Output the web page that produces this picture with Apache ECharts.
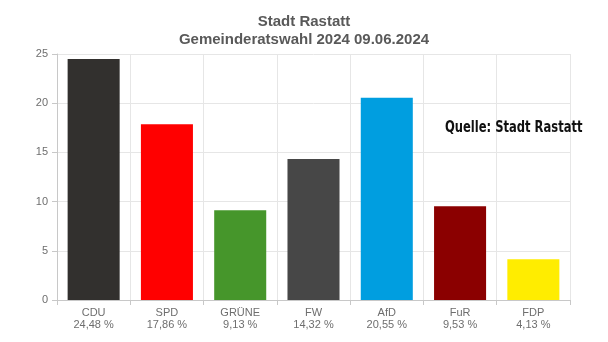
<!DOCTYPE html>
<html>
<head>
<meta charset="utf-8">
<script src="https://cdn.jsdelivr.net/npm/echarts@6/dist/echarts.min.js"></script>
<style>html,body{margin:0;padding:0;background:#fff}#c{width:608px;height:342px}</style>
</head>
<body>
<div id="c"></div>
<script>
const categories = ['CDU', 'SPD', 'GRÜNE', 'FW', 'AfD', 'FuR', 'FDP'];
const values = [24.48, 17.86, 9.13, 14.32, 20.55, 9.53, 4.13];
const colors = ['#32302e', '#ff0000', '#46962b', '#474747', '#009ee0', '#8b0000', '#ffed00'];
const yTicks = [0, 5, 10, 15, 20, 25];

const chart = echarts.init(document.getElementById('c'), null, {renderer: 'canvas'});
const fmt = v => v.toFixed(2).replace('.', ',') + ' %';
chart.setOption({
  animation: false,
  textStyle: {fontFamily: 'Liberation Sans, Arial, sans-serif'},
  title: {
    text: 'Stadt Rastatt\nGemeinderatswahl 2024 09.06.2024',
    left: 'center', top: 8,
    textStyle: {fontSize: 15, fontWeight: 'bold', color: '#595959', lineHeight: 18, fontFamily: 'Liberation Sans, Arial, sans-serif'}
  },
  grid: {left: 57, right: 38, top: 54, bottom: 42, containLabel: false},
  xAxis: {
    type: 'category',
    data: categories,
    axisLine: {lineStyle: {color: '#c8c8c8'}},
    axisTick: {show: true, length: 5, lineStyle: {color: '#c8c8c8'}},
    splitLine: {show: true, lineStyle: {color: '#e6e6e6'}},
    axisLabel: {
      color: '#6e6e6e', fontSize: 11, lineHeight: 12, margin: 7,
      formatter: (v, i) => v + '\n' + fmt(values[i])
    }
  },
  yAxis: {
    type: 'value', min: 0, max: 25, interval: 5,
    axisLine: {show: true, lineStyle: {color: '#c8c8c8'}},
    axisTick: {show: true, length: 5, lineStyle: {color: '#c8c8c8'}},
    splitLine: {lineStyle: {color: '#e6e6e6'}},
    axisLabel: {color: '#6e6e6e', fontSize: 11, margin: 9,
      formatter: v => yTicks.includes(v) ? String(v) : ''}
  },
  series: [{
    type: 'bar',
    barWidth: '71%',
    data: values.map((v, i) => ({value: v, itemStyle: {color: colors[i]}}))
  }],
  graphic: [{
    type: 'text', x: 445, y: 121, scaleX: 0.855, z: 100,
    style: {text: 'Quelle: Stadt Rastatt', fill: '#111', verticalAlign: 'top', align: 'left',
      font: 'bold 15px "DejaVu Sans Condensed", "DejaVu Sans", sans-serif'}
  }]
});
</script>
</body>
</html>
